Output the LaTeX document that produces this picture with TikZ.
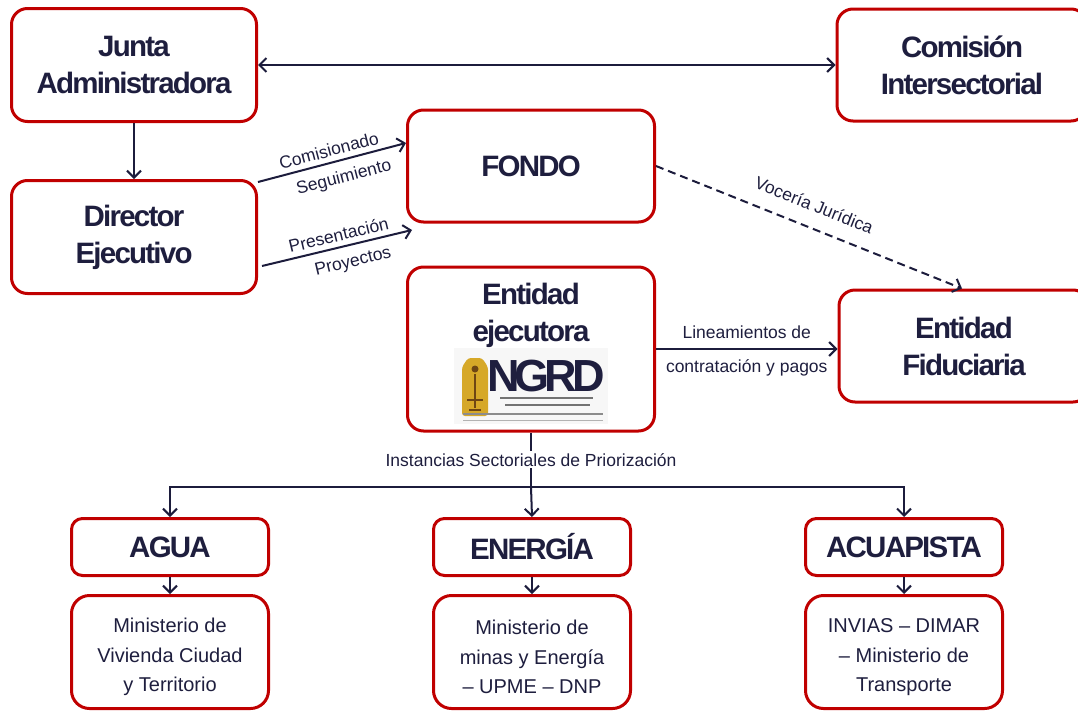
\documentclass[tikz,border=0pt]{standalone}
\usepackage{fontspec}
\setmainfont{Liberation Sans}
\newfontfamily\headfont{Liberation Sans}[LetterSpace=-6]
\usepackage{tikz}
\usetikzlibrary{arrows.meta,positioning}
\definecolor{boxred}{RGB}{192,0,0}
\definecolor{inknavy}{RGB}{30,30,62}
\definecolor{linenavy}{RGB}{28,28,60}
\definecolor{logogold}{RGB}{214,168,40}
\definecolor{logobrown}{RGB}{110,70,20}
\tikzset{
  box/.style={draw=boxred,line width=3pt,rounded corners=16pt,fill=white,text=inknavy,align=center},
  smallbox/.style={box,rounded corners=11pt,minimum width=197pt,minimum height=57pt},
  minbox/.style={box,rounded corners=18pt,minimum width=197pt,minimum height=113pt,text height=84pt},
  head/.style={font=\headfont\bfseries\fontsize{29.5}{37}\selectfont},
  body/.style={font=\fontsize{20}{29.5}\selectfont},
  lbl/.style={font=\fontsize{17.5}{35}\selectfont,text=inknavy,inner sep=5pt},
  conn/.style={draw=linenavy,line width=2pt},
}

\begin{document}
\begin{tikzpicture}[x=1pt,y=-1pt,>={Straight Barb[length=7pt,width=14pt]}]
\useasboundingbox (0,0) rectangle (1078,712);

%Shape: Rounded Rect [junta]
\node[box,head,minimum width=245pt,minimum height=113pt] (junta) at (134,65) {Junta\\Administradora};
%Shape: Rounded Rect [director]
\node[box,head,minimum width=245pt,minimum height=113pt] (director) at (134,237) {Director\\Ejecutivo};
%Shape: Rounded Rect [comision]
\node[box,head,minimum width=250pt,minimum height=112pt] (comision) at (962,65) {Comisión\\Intersectorial};
%Shape: Rounded Rect [fondo]
\node[box,head,minimum width=247pt,minimum height=112pt] (fondo) at (531,166) {FONDO};
%Shape: Rounded Rect [ejecutora]
\node[box,minimum width=247pt,minimum height=164pt] (ejecutora) at (531,349) {};
\node[head,text=inknavy,align=center] (ejectitle) at (531,315) {Entidad\\ejecutora};
%Shape: Rounded Rect [fiduciaria]
\node[box,head,minimum width=250pt,minimum height=112pt] (fiduciaria) at (964,346) {Entidad\\Fiduciaria};

%Logo NGRD
\node[fill=black!3,minimum width=154pt,minimum height=76pt] (logo) at (531,386) {};
\fill[logogold,rounded corners=3pt] (462,416) -- (462,367) -- (468,358) -- (482,358) -- (488,367) -- (488,416) -- cycle;
\fill[logobrown] (475,369) circle (3.5);
\draw[logobrown,line width=2.5pt] (475,374) -- (475,408);
\draw[logobrown,line width=1.5pt] (467,400) -- (483,400) (469,410) -- (481,410);
\node[text=inknavy,font=\headfont\bfseries\fontsize{45}{45}\selectfont\addfontfeatures{LetterSpace=-11}] (ngrd) at (546,376) {NGRD};
\draw[black!55,line width=1.6pt] (500,398) -- (593,398) (505,405) -- (590,405);
\draw[black!45,line width=2pt] (463,414) -- (603,414);
\draw[black!30,line width=0.8pt] (463,420) -- (603,420);

%Shape: Rounded Rect [sectores]
\node[smallbox,head] (agua) at (170,547) {AGUA};
\node[smallbox,head] (energia) at (532,547) {ENERGÍA};
\node[smallbox,head] (acuapista) at (904,547) {ACUAPISTA};
%Shape: Rounded Rect [ministerios]
\node[minbox,body] (magua) at (170,652) {Ministerio de\\Vivienda Ciudad\\y Territorio};
\node[minbox,body] (menergia) at (532,652) {Ministerio de\\minas y Energía\\– UPME – DNP};
\node[minbox,body] (macua) at (904,652) {INVIAS – DIMAR\\– Ministerio de\\Transporte};

%Straight Lines
\draw[conn,<->] (junta.east) -- (comision.west);
\draw[conn,->] (junta.south) -- (director.north);
\draw[conn,->] ([yshift=55pt]director.east) -- node[lbl,sloped,above] (comisionado) {Comisionado} node[lbl,sloped,below,pos=0.55,inner sep=9pt] (seguimiento) {Seguimiento} ([yshift=23pt]fondo.west);
\draw[conn,->] ([xshift=4pt,yshift=-29pt]director.east) -- node[lbl,sloped,above,pos=0.53] (presentacion) {Presentación} node[lbl,sloped,below,pos=0.58,inner sep=9pt] (proyectos) {Proyectos} ([xshift=6pt,yshift=-64pt]fondo.west);
\draw[conn,->,dash pattern=on 8pt off 5pt] (fondo.east) -- node[lbl,sloped,above,inner sep=15pt,pos=0.49] (voceria) {Vocería Jurídica} ([xshift=-2pt]fiduciaria.north);
\draw[conn,->] (ejecutora.east) -- node[lbl,above,inner sep=9pt] (lineamientos) {Lineamientos de} node[lbl,below,inner sep=10pt] (contratacion) {contratación y pagos} (ejecutora.east -| fiduciaria.west);

%Instancias
\coordinate (split) at (531,487);
\draw[conn] (ejecutora.south) -- node[lbl,fill=white,inner sep=2pt] (instancias) {Instancias Sectoriales de Priorización} (split);
\draw[conn,->] (split) -- (energia.north);
\draw[conn,->] (split) -| (agua.north);
\draw[conn,->] (split) -| (acuapista.north);
\draw[conn,->] (agua.south) -- (magua.north);
\draw[conn,->] (energia.south) -- (menergia.north);
\draw[conn,->] (acuapista.south) -- (macua.north);

\end{tikzpicture}
\end{document}
